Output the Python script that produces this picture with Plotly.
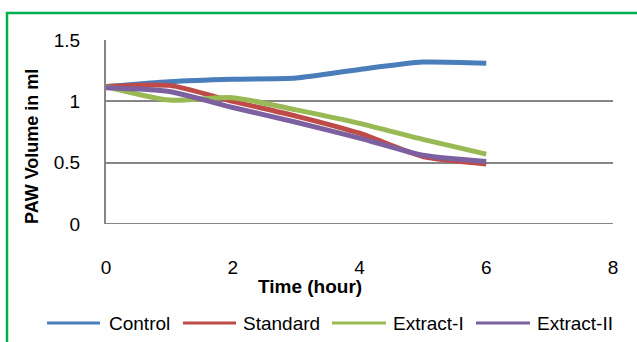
import plotly.graph_objects as go

# ---- data ----
time_hours = [0, 1, 2, 3, 4, 5, 6]
control = [1.12, 1.16, 1.18, 1.19, 1.26, 1.32, 1.31]
standard = [1.12, 1.13, 1.00, 0.88, 0.74, 0.55, 0.49]
extract_1 = [1.12, 1.01, 1.03, 0.93, 0.82, 0.69, 0.57]
extract_2 = [1.11, 1.08, 0.95, 0.83, 0.70, 0.56, 0.51]
series_names = ["Control", "Standard", "Extract-I", "Extract-II"]
x_ticks = [0, 2, 4, 6, 8]
y_ticks = [0, 0.5, 1, 1.5]

colors = ["#4A7EBB", "#BE4B48", "#98B954", "#7D60A0"]
series = [control, standard, extract_1, extract_2]

W, H = 637, 342
L, R, T, B = 106, 24, 40, 118
PW = W - L - R
PH = H - T - B


def px(xp):
    return (xp - L) / PW


def py(yp):
    return (H - B - yp) / PH


FONT = "Liberation Sans, Arial, sans-serif"

fig = go.Figure()
for name, vals, col in zip(series_names, series, colors):
    fig.add_trace(go.Scatter(
        x=time_hours, y=vals, mode="lines", name=name,
        line=dict(color=col, width=5, shape="spline", smoothing=0.6),
        showlegend=False,
    ))

fig.update_layout(
    width=W, height=H,
    margin=dict(l=L, r=R, t=T, b=B, pad=0),
    paper_bgcolor="white", plot_bgcolor="white",
    font=dict(family=FONT, size=19, color="black"),
    xaxis=dict(range=[0, 8], tickvals=x_ticks, showgrid=False, zeroline=False,
               showline=False, ticks="", ticklabelstandoff=30,
               tickfont=dict(size=19)),
    yaxis=dict(range=[0, 1.5], tickvals=y_ticks, ticktext=["0", "0.5", "1", "1.5"],
               showgrid=True, gridcolor="#868686", gridwidth=2,
               zeroline=False, showline=True, linecolor="#868686", linewidth=2,
               ticks="", ticklabelstandoff=20, tickfont=dict(size=19)),
)

# bottom axis line (y=0 gridline)
fig.add_shape(type="line", xref="paper", yref="y", x0=0, x1=1, y0=0, y1=0,
              line=dict(color="#868686", width=2))

# green frame
fig.add_shape(type="rect", xref="paper", yref="paper",
              x0=px(7), x1=px(645), y0=py(350), y1=py(13),
              line=dict(color="#00B050", width=2.5))

# axis titles
fig.add_annotation(text="<b>Time (hour)</b>", xref="paper", yref="paper",
                   x=px(310), y=py(286), showarrow=False,
                   font=dict(size=19, family=FONT), xanchor="center", yanchor="middle")
fig.add_annotation(text="<b>PAW Volume in ml</b>", xref="paper", yref="paper",
                   x=px(32), y=py(147), showarrow=False, textangle=-90,
                   font=dict(size=18, family=FONT), xanchor="center", yanchor="middle")

# manual legend
line_x = [(47, 100), (183, 236), (332, 386), (476, 530)]
text_x = [107, 241, 391, 535]
for name, col, (a, b), tx in zip(series_names, colors, line_x, text_x):
    fig.add_shape(type="line", xref="paper", yref="paper",
                  x0=px(a), x1=px(b), y0=py(323), y1=py(323),
                  line=dict(color=col, width=3))
    fig.add_annotation(text=name, xref="paper", yref="paper",
                       x=px(tx), y=py(323), showarrow=False,
                       xanchor="left", yanchor="middle",
                       font=dict(size=19, family=FONT))

fig.write_html("out.html")
